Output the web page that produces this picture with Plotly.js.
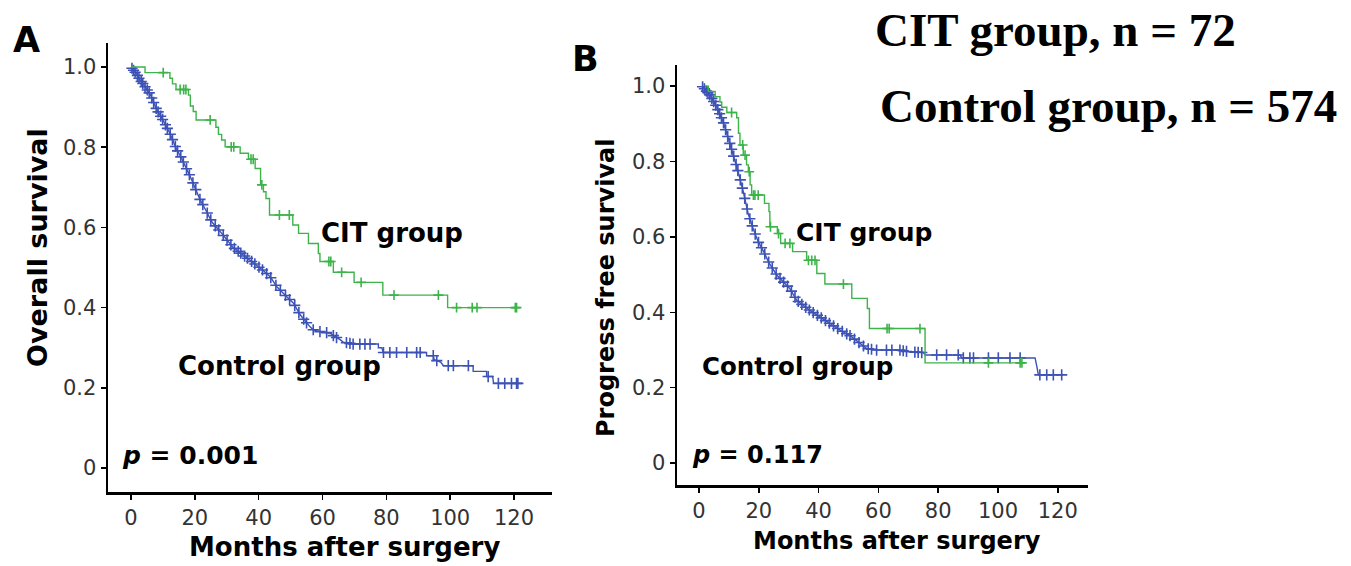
<!DOCTYPE html>
<html><head><meta charset="utf-8">
<script src="https://cdn.plot.ly/plotly-3.0.1.min.js"></script>
<style>html,body{margin:0;padding:0;background:#fff}#chart{width:1351px;height:566px}</style>
</head><body><div id="chart"></div>
<script>
// ---------- tick labels ----------
const yTickVals = [0, 0.2, 0.4, 0.6, 0.8, 1.0];
const yTickText = ["0", "0.2", "0.4", "0.6", "0.8", "1.0"];
const xTickVals = [0, 20, 40, 60, 80, 100, 120];

// ---------- Panel A: overall survival ----------
const osCitTime = [0, 4.4, 12.2, 13.0, 14.1, 18.0, 18.6, 19.5, 20.4, 26.6, 27.4, 28.4, 29.5, 34.2, 36.8, 38.9, 40.6, 41.5, 42.3, 43.4, 50.7, 52.5, 55.6, 58.7, 59.2, 63.4, 69.9, 78.9, 99.2, 121.0];
const osCitSurv = [1.0, 0.986, 0.972, 0.958, 0.944, 0.930, 0.903, 0.889, 0.868, 0.850, 0.832, 0.818, 0.801, 0.785, 0.770, 0.747, 0.706, 0.689, 0.672, 0.631, 0.606, 0.585, 0.560, 0.535, 0.515, 0.488, 0.463, 0.431, 0.400, 0.400];
const osCitCensor = [10.1, 15.4, 16.5, 17.2, 24.8, 31.4, 32.2, 37.6, 38.3, 41.0, 46.5, 49.6, 62.0, 62.6, 66.0, 72.1, 82.4, 96.3, 102.0, 106.9, 108.4, 120.4, 120.8];

const osCtrlTime = [0, 1.8, 2.8, 3.9, 6.0, 8.0, 10.0, 12.0, 14.0, 16.0, 18.5, 20.0, 21.6, 23.7, 25.3, 27.9, 30.0, 32.0, 35.2, 38.3, 41.5, 43.6, 45.7, 48.8, 50.9, 53.0, 55.1, 56.1, 57.2, 59.2, 62.5, 63.4, 65.5, 66.5, 69.6, 77.5, 77.5, 78.6, 79.0, 92.6, 92.6, 94.7, 95.0, 97.0, 97.9, 107.2, 107.2, 111.4, 111.4, 113.3, 113.6, 121.2];
const osCtrlSurv = [1.0, 0.982, 0.968, 0.957, 0.932, 0.895, 0.868, 0.838, 0.800, 0.770, 0.728, 0.700, 0.670, 0.639, 0.614, 0.590, 0.569, 0.550, 0.531, 0.512, 0.492, 0.477, 0.452, 0.427, 0.411, 0.382, 0.361, 0.352, 0.344, 0.340, 0.336, 0.330, 0.320, 0.314, 0.309, 0.309, 0.300, 0.300, 0.288, 0.288, 0.280, 0.280, 0.270, 0.264, 0.255, 0.255, 0.241, 0.241, 0.228, 0.228, 0.211, 0.211];
const osCtrlCensor = [0.3, 0.8, 1.3, 2.0, 2.5, 3.2, 3.7, 4.4, 5.1, 5.7, 6.5, 7.1, 7.9, 8.5, 9.3, 9.9, 10.8, 11.4, 12.3, 13.0, 13.9, 14.6, 15.6, 16.4, 17.4, 18.3, 19.4, 20.3, 21.6, 22.5, 23.9, 25.0, 26.4, 27.5, 28.9, 30.1, 31.3, 32.4, 33.6, 34.4, 35.6, 36.5, 37.8, 38.8, 40.1, 41.2, 42.5, 43.8, 45.4, 46.8, 48.4, 49.7, 51.3, 52.6, 54.1, 55.0, 57.1, 59.2, 61.3, 63.4, 64.4, 67.5, 68.6, 69.6, 71.7, 73.3, 74.9, 79.1, 81.1, 83.2, 86.4, 89.5, 90.6, 94.7, 95.8, 99.4, 101.0, 105.7, 111.9, 115.1, 117.1, 119.2, 120.8, 121.2];

// ---------- Panel B: progress free survival ----------
const pfsCitTime = [2.0, 3.1, 5.4, 7.0, 7.6, 9.3, 12.6, 13.2, 13.7, 14.8, 15.9, 16.5, 17.1, 17.6, 21.9, 23.4, 23.7, 26.2, 27.3, 31.3, 36.0, 39.4, 42.1, 51.1, 56.3, 57.0, 75.6, 108.2];
const pfsCitSurv = [1.0, 0.986, 0.972, 0.958, 0.944, 0.930, 0.916, 0.875, 0.844, 0.817, 0.791, 0.773, 0.738, 0.711, 0.689, 0.667, 0.627, 0.609, 0.583, 0.561, 0.538, 0.503, 0.475, 0.437, 0.410, 0.357, 0.266, 0.266];
const pfsCitCensor = [10.9, 14.6, 15.4, 16.8, 18.2, 18.7, 19.8, 23.9, 26.6, 28.8, 30.4, 36.6, 37.7, 38.8, 48.3, 62.9, 63.6, 73.9, 96.8, 107.4, 108.0];

const pfsCtrlTime = [1.0, 3.7, 5.9, 8.1, 9.8, 11.5, 13.1, 14.8, 16.5, 18.2, 19.8, 21.5, 23.5, 26.0, 28.2, 30.4, 32.7, 34.9, 37.1, 40.4, 43.8, 47.2, 50.5, 53.8, 56.1, 59.4, 67.2, 69.5, 75.1, 75.6, 87.3, 87.9, 112.4, 113.0, 113.5, 121.8];
const pfsCtrlSurv = [1.0, 0.976, 0.945, 0.905, 0.861, 0.817, 0.773, 0.720, 0.660, 0.620, 0.587, 0.563, 0.530, 0.499, 0.481, 0.463, 0.432, 0.418, 0.405, 0.388, 0.370, 0.353, 0.338, 0.318, 0.304, 0.300, 0.300, 0.296, 0.293, 0.287, 0.287, 0.279, 0.279, 0.256, 0.234, 0.234];
const pfsCtrlCensor = [1.2, 1.8, 2.5, 3.0, 3.6, 4.3, 4.9, 5.6, 6.3, 6.9, 7.5, 8.2, 8.9, 9.6, 10.3, 10.9, 11.6, 12.4, 13.0, 13.8, 14.5, 15.3, 16.1, 17.0, 17.8, 18.8, 19.9, 20.9, 22.0, 23.3, 24.5, 25.8, 27.1, 28.3, 29.6, 30.9, 32.1, 33.2, 34.4, 35.7, 36.9, 38.2, 39.6, 40.9, 42.3, 43.6, 45.0, 46.4, 47.9, 49.4, 50.5, 52.0, 53.5, 55.0, 56.6, 57.7, 59.4, 62.7, 64.5, 67.2, 68.3, 69.4, 72.2, 73.3, 74.5, 79.5, 82.8, 86.7, 88.4, 90.6, 91.8, 96.8, 100.1, 104.0, 107.4, 114.0, 116.3, 118.5, 121.3];

// ---------- helpers ----------
const GREEN = '#3db34a';
const BLUE = '#3d52b5';
function stepAt(times, surv, t) {
  let v = surv[0];
  for (let i = 0; i < times.length; i++) { if (times[i] <= t) v = surv[i]; }
  return v;
}
function lineAt(times, surv, t) {
  if (t <= times[0]) return surv[0];
  for (let i = 0; i < times.length - 1; i++) {
    if (t >= times[i] && t <= times[i + 1]) {
      if (times[i + 1] === times[i]) return surv[i];
      const f = (t - times[i]) / (times[i + 1] - times[i]);
      return surv[i] + f * (surv[i + 1] - surv[i]);
    }
  }
  return surv[surv.length - 1];
}
function curve(times, surv, shape, color, xa, ya) {
  return {x: times, y: surv, xaxis: xa, yaxis: ya, mode: 'lines', type: 'scatter',
    line: {color: color, width: 1.4, shape: shape}, hoverinfo: 'skip'};
}
function censor(ts, fn, times, surv, color, xa, ya, sz) {
  return {x: ts, y: ts.map(t => fn(times, surv, t)), xaxis: xa, yaxis: ya, mode: 'markers', type: 'scatter',
    marker: {symbol: 'cross-thin', size: sz, color: color, line: {color: color, width: 1.6}}, hoverinfo: 'skip'};
}

const traces = [
  curve(osCtrlTime, osCtrlSurv, 'linear', BLUE, 'x', 'y'),
  censor(osCtrlCensor, lineAt, osCtrlTime, osCtrlSurv, BLUE, 'x', 'y', 8),
  curve(osCitTime, osCitSurv, 'hv', GREEN, 'x', 'y'),
  censor(osCitCensor, stepAt, osCitTime, osCitSurv, GREEN, 'x', 'y', 7),
  curve(pfsCtrlTime, pfsCtrlSurv, 'linear', BLUE, 'x2', 'y2'),
  censor(pfsCtrlCensor, lineAt, pfsCtrlTime, pfsCtrlSurv, BLUE, 'x2', 'y2', 8),
  curve(pfsCitTime, pfsCitSurv, 'hv', GREEN, 'x2', 'y2'),
  censor(pfsCitCensor, stepAt, pfsCitTime, pfsCitSurv, GREEN, 'x2', 'y2', 7)
];

const W = 1351, H = 566;
const px = v => v / W;
const py = v => 1 - v / H;
const tickFont = {family: 'DejaVu Sans, Arial, sans-serif', size: 21, color: '#333'};
function xAxis(dom, rng, anchor) {
  return {domain: dom, range: rng, anchor: anchor, showline: true, linewidth: 2.5, linecolor: '#000',
    ticks: 'outside', ticklen: 5, tickwidth: 1.5, tickcolor: '#000', tickvals: xTickVals,
    tickfont: tickFont, showgrid: false, zeroline: false, fixedrange: true};
}
function yAxis(dom, rng, anchor) {
  return {domain: dom, range: rng, anchor: anchor, showline: true, linewidth: 2.5, linecolor: '#000',
    ticks: 'outside', ticklen: 5, tickwidth: 1.5, tickcolor: '#000', tickvals: yTickVals, ticktext: yTickText,
    tickfont: tickFont, showgrid: false, zeroline: false, fixedrange: true};
}
const sans = (size) => ({family: 'DejaVu Sans, Arial, sans-serif', size: size, color: '#000'});
const serif = (size) => ({family: 'Liberation Serif, Times New Roman, serif', size: size, color: '#000'});
function paperText(text, x, y, font, angle) {
  return {text: text, xref: 'paper', yref: 'paper', x: px(x), y: py(y), xanchor: 'center', yanchor: 'middle',
    showarrow: false, font: font, textangle: angle || 0};
}
function dataText(text, x, y, xr, yr, size) {
  return {text: text, xref: xr, yref: yr, x: x, y: y, xanchor: 'center', yanchor: 'middle',
    showarrow: false, font: sans(size)};
}

const layout = {
  width: W, height: H, margin: {l: 0, r: 0, t: 0, b: 0},
  paper_bgcolor: '#fff', plot_bgcolor: '#fff', showlegend: false,
  xaxis: xAxis([px(108), px(552)], [-7.2, 131.9], 'y'),
  yaxis: yAxis([py(492), py(43)], [-0.06, 1.06], 'x'),
  xaxis2: xAxis([px(677), px(1088)], [-7.36, 130.1], 'y2'),
  yaxis2: yAxis([py(485), py(65)], [-0.058, 1.056], 'x2'),
  annotations: [
    paperText('<b>A</b>', 26, 40, sans(35)),
    paperText('<b>B</b>', 585, 59, sans(35)),
    paperText('<b>Overall survival</b>', 37, 248, sans(27), -90),
    paperText('<b>Progress free survival</b>', 606, 288, sans(24), -90),
    paperText('<b>Months after surgery</b>', 344, 547, sans(26)),
    paperText('<b>Months after surgery</b>', 897, 541, sans(24)),
    paperText('<b>CIT group, n = 72</b>', 1055, 30, serif(47)),
    paperText('<b>Control group, n = 574</b>', 1108, 106, serif(47)),
    dataText('<b>CIT group</b>', 81.8, 0.587, 'x', 'y', 26),
    dataText('<b>Control group</b>', 46.4, 0.254, 'x', 'y', 26),
    dataText('<b><i>p</i> = 0.001</b>', 18.5, 0.030, 'x', 'y', 25),
    dataText('<b>CIT group</b>', 55.5, 0.613, 'x2', 'y2', 25),
    dataText('<b>Control group</b>', 33.1, 0.255, 'x2', 'y2', 24.5),
    dataText('<b><i>p</i> = 0.117</b>', 19.4, 0.021, 'x2', 'y2', 24)
  ]
};

Plotly.newPlot('chart', traces, layout, {displayModeBar: false, staticPlot: true});
</script>
</body></html>
